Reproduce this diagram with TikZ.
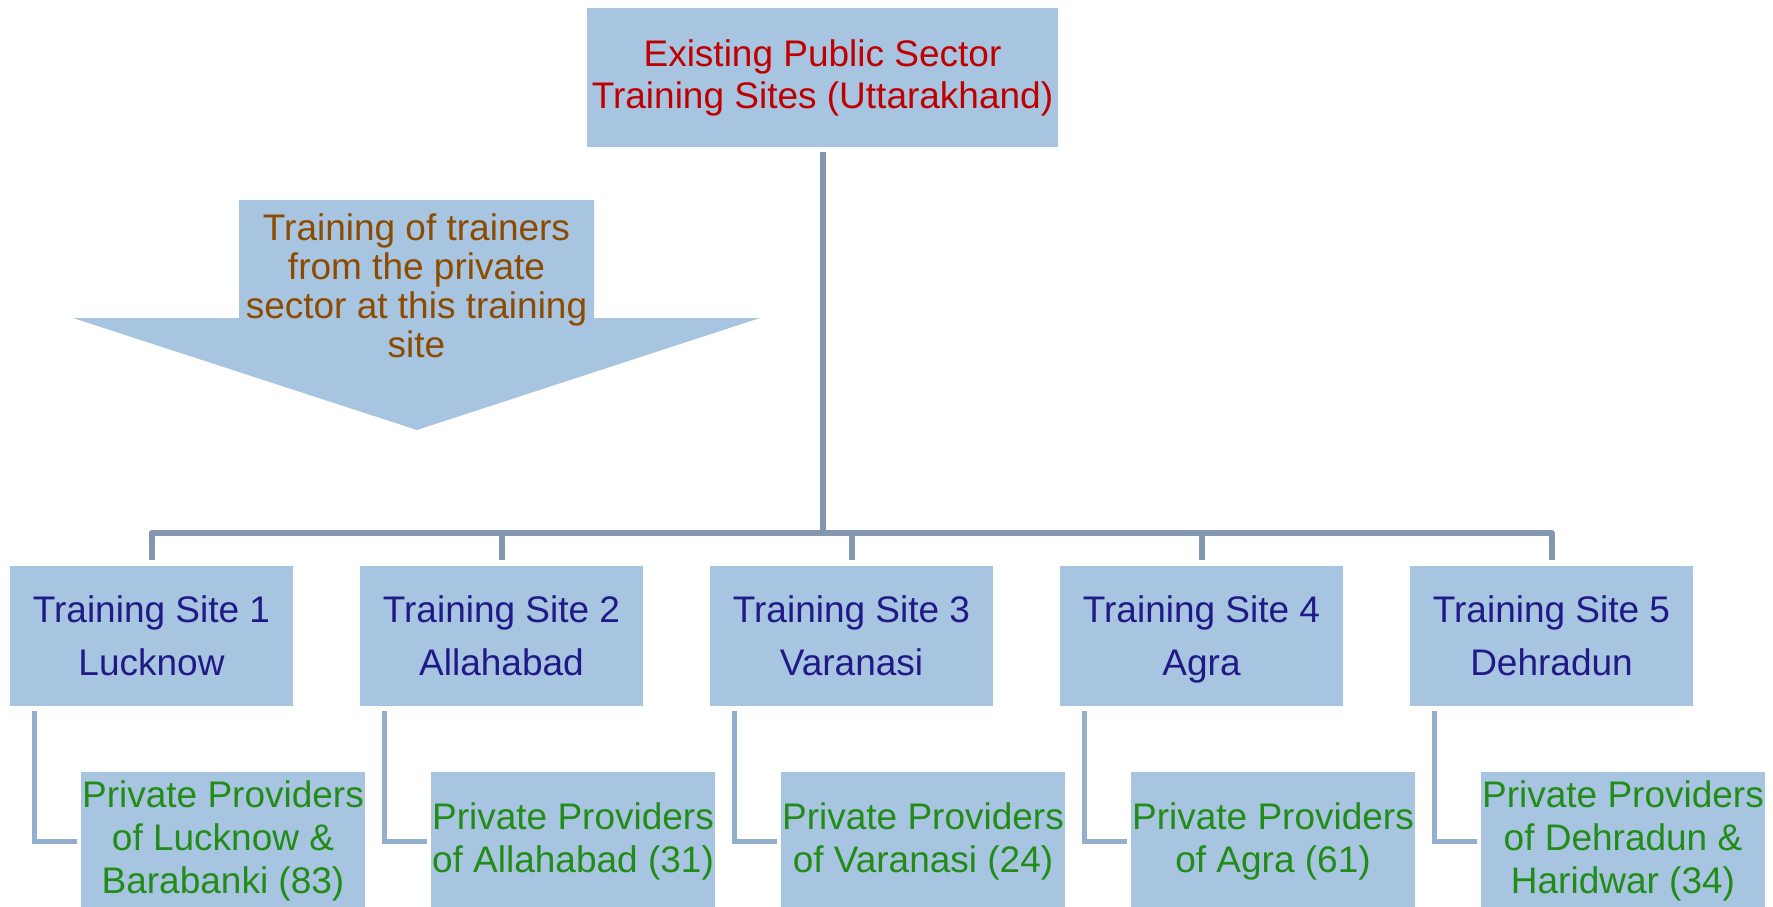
\documentclass[tikz,border=0pt]{standalone}
\usepackage{fontspec}
\setmainfont{Liberation Sans}
\definecolor{boxfill}{RGB}{167,196,224}
\definecolor{busc}{RGB}{132,151,176}
\definecolor{elbowc}{RGB}{148,175,206}
\definecolor{topred}{RGB}{192,0,0}
\definecolor{siteblue}{RGB}{32,26,135}
\definecolor{provgreen}{RGB}{35,140,25}
\definecolor{arrbrown}{RGB}{140,75,0}
\begin{document}
\begin{tikzpicture}[x=1pt,y=-1pt,
  box/.style={fill=boxfill, draw=none, inner sep=0pt, align=center,
    font=\fontsize{37}{43}\selectfont},
  topbox/.style={box, minimum width=471pt, minimum height=139pt, text=topred, font=\fontsize{37}{42}\selectfont},
  sitebox/.style={box, minimum width=283pt, minimum height=140pt, text=siteblue},
  provbox/.style={box, minimum width=284pt, minimum height=138pt, text=provgreen},
  busline/.style={draw=busc, line width=6pt},
  elbowline/.style={draw=elbowc, line width=5pt},
  arrtext/.style={inner sep=0pt, align=center, text=arrbrown, font=\fontsize{37}{39}\selectfont}
]
\useasboundingbox (0,0) rectangle (1773,907);

% arrow shape
\fill[boxfill] (239,200) -- (594,200) -- (594,318) -- (760,318) -- (417,430) -- (73,318) -- (239,318) -- cycle;
\node[arrtext] (arrtxt) at (416.5,286) {Training of trainers\\from the private\\sector at this training\\site};

% top node
\node[topbox] (top) at (822.5,77.5) {Existing Public Sector\\Training Sites (Uttarakhand)};

% site nodes
\node[sitebox] (s1) at (151.5,636) {Training Site 1\\[10pt]Lucknow};
\node[sitebox] (s2) at (501.5,636) {Training Site 2\\[10pt]Allahabad};
\node[sitebox] (s3) at (851.5,636) {Training Site 3\\[10pt]Varanasi};
\node[sitebox] (s4) at (1201.5,636) {Training Site 4\\[10pt]\smash{Agra}\vphantom{Lk}};
\node[sitebox] (s5) at (1551.5,636) {Training Site 5\\[10pt]Dehradun};

% provider nodes
\node[provbox] (p1) at (223,841) {Private Providers\\of Lucknow \&\\Barabanki (83)};
\node[provbox] (p2) at (573,841) {Private Providers\\of Allahabad (31)};
\node[provbox] (p3) at (923,841) {Private Providers\\of Varanasi (24)};
\node[provbox] (p4) at (1273,841) {Private Providers\\of Agra (61)};
\node[provbox] (p5) at (1623,841) {Private Providers\\of Dehradun \&\\Haridwar (34)};

% bus connectors
\coordinate (hub) at (822.5,533);
\draw[busline] ([yshift=-5pt]top.south) -- (hub);
\draw[busline, line join=round] ([yshift=6pt]s1.north) |- (hub) -| ([yshift=6pt]s5.north);
\foreach \i in {2,3,4} {
  \draw[busline] ([yshift=6pt]s\i.north) -- (s\i.north |- hub);
}

% elbow connectors
\foreach \i in {1,...,5} {
  \draw[elbowline] ([xshift=25pt,yshift=-5pt]s\i.south west) |- ([xshift=-4pt]p\i.west);
}
\end{tikzpicture}
\end{document}
